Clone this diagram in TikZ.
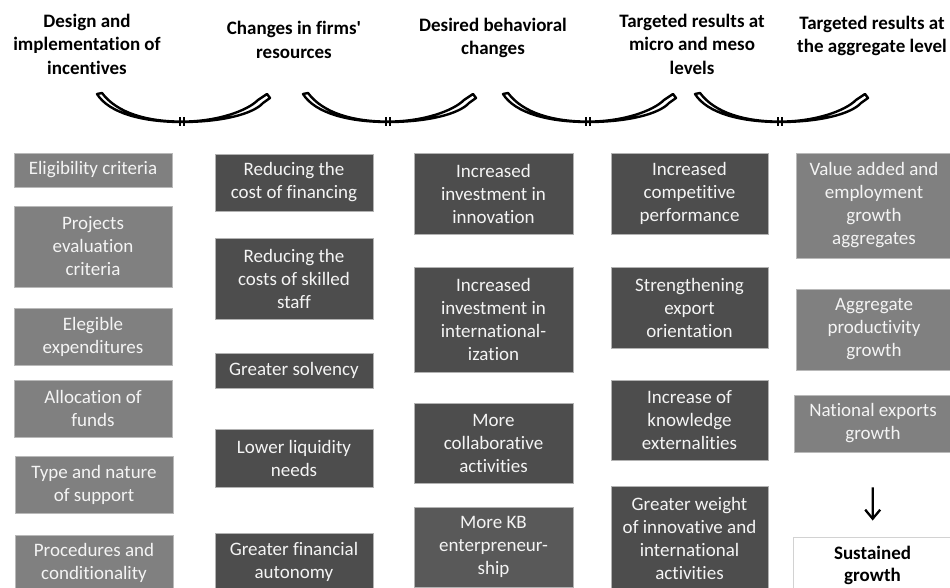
\documentclass[tikz,border=0pt]{standalone}
\usepackage{fontspec}
\setmainfont{Carlito}[Ligatures={TeXOff,CommonOff}]
\usetikzlibrary{arrows.meta}

\definecolor{lightbox}{HTML}{808080}
\definecolor{darkbox}{HTML}{4D4D4D}
\definecolor{kbbox}{HTML}{595959}
\definecolor{boxtext}{HTML}{F4F4F4}

% box from its corners: style, name, x1, y1, x2, y2, text
\newcommand{\flowbox}[7]{%
  \node[#1, minimum width={#5-#3}, minimum height={#6-#4}] (#2)
    at ({(#3+#5)/2},{(#4+#6)/2}) {#7};}

\tikzset{
  boxbase/.style={rectangle, inner sep=0pt, align=center, line width=0.5pt,
    font=\fontsize{19}{23}\selectfont},
  lbox/.style={boxbase, fill=lightbox, draw=gray!55, text=boxtext},
  dbox/.style={boxbase, fill=darkbox, draw=gray!60, text=boxtext},
  kbox/.style={boxbase, fill=kbbox, draw=gray!60, text=boxtext},
  goalbox/.style={boxbase, fill=white, draw=gray!35, line width=1pt,
    text=black, font=\bfseries\fontsize{19}{22}\selectfont},
  head/.style={align=center, inner sep=0pt, text=black,
    font=\bfseries\fontsize{19}{23.5}\selectfont},
  downarrow/.style={line width=2.3pt, -{Straight Barb[length=9pt,width=15pt]}},
  curvarrow/.pic={
    \draw[line width=2.4pt, fill=white, line join=round]
      (0,1) .. controls (12,20) and (45,29) .. (85,29)
            .. controls (125,29) and (156,21) .. (166,10)
      -- (173,5) -- (170,1) -- (161,7)
            .. controls (150,18) and (120,28.6) .. (85,28.6)
            .. controls (50,28.6) and (20,20) .. (5,0) -- cycle;
    \draw[line width=1.2pt] (83,24) -- (83,33) (87,24) -- (87,33);
  }
}

\begin{document}
\begin{tikzpicture}[x=1pt, y=-1pt]
\useasboundingbox (0,0) rectangle (950,587);

% column headings
\node[head] (h1) at (87,44)  {Design and\\implementation of\\incentives};
\node[head] (h2) at (294,40) {Changes in firms'\\resources};
\node[head] (h3) at (493,38) {Desired behavioral\\changes};
\node[head] (h4) at (692,44) {Targeted results at\\micro and meso\\levels};
\node[head] (h5) at (872,36) {Targeted results at\\the aggregate level};

% curved arrows between the headings
\pic at (97,93)  {curvarrow};
\pic at (303,93) {curvarrow};
\pic at (503,93) {curvarrow};
\pic at (695,93) {curvarrow};

% incentives
\flowbox{lbox}{elig}{14}{153}{172}{187}{Eligibility criteria}
\flowbox{lbox}{proj}{14}{206}{172}{287}{Projects\\evaluation\\criteria}
\flowbox{lbox}{expd}{14}{308}{172}{365}{Elegible\\expenditures}
\flowbox{lbox}{alloc}{14}{380}{172}{437}{Allocation of\\funds}
\flowbox{lbox}{type}{15}{456}{173}{513}{Type and nature\\of support}
\flowbox{lbox}{proc}{15}{535}{173}{591}{Procedures and\\conditionality}

% firms' resources
\flowbox{dbox}{cfin}{215}{154}{373}{211}{Reducing the\\cost of financing}
\flowbox{dbox}{cstaff}{215}{238}{373}{319}{Reducing the\\costs of skilled\\staff}
\flowbox{dbox}{solv}{215}{353}{373}{388}{Greater solvency}
\flowbox{dbox}{liq}{215}{429}{373}{487}{Lower liquidity\\needs}
\flowbox{dbox}{auto}{215}{533}{373}{590}{Greater financial\\autonomy}

% behavioral changes
\flowbox{dbox}{innov}{414}{153}{573}{234}{Increased\\investment in\\innovation}
\flowbox{dbox}{intl}{414}{267}{573}{372}{Increased\\investment in\\international-\\ization}
\flowbox{dbox}{collab}{414}{403}{573}{483}{More\\collaborative\\activities}
\flowbox{kbox}{kb}{414}{507}{573}{587}{More KB\\enterpreneur-\\ship}

% micro and meso results
\flowbox{dbox}{comp}{611}{153}{768}{234}{Increased\\competitive\\performance}
\flowbox{dbox}{expo}{611}{267}{768}{348}{Strengthening\\export\\orientation}
\flowbox{dbox}{know}{611}{380}{768}{460}{Increase of\\knowledge\\externalities}
\flowbox{dbox}{weight}{611}{486}{768}{590}{Greater weight\\of innovative and\\international\\activities}

% aggregate results
\flowbox{lbox}{va}{796}{153}{952}{258}{Value added and\\employment\\growth\\aggregates}
\flowbox{lbox}{prod}{796}{289}{952}{370}{Aggregate\\productivity\\growth}
\flowbox{lbox}{nexp}{794}{395}{952}{452}{National exports\\growth}
\flowbox{goalbox}{sus}{793}{537}{952}{593}{Sustained\\growth}

\draw[downarrow, shorten <=35pt, shorten >=16pt] (nexp) -- (sus);
\end{tikzpicture}
\end{document}
